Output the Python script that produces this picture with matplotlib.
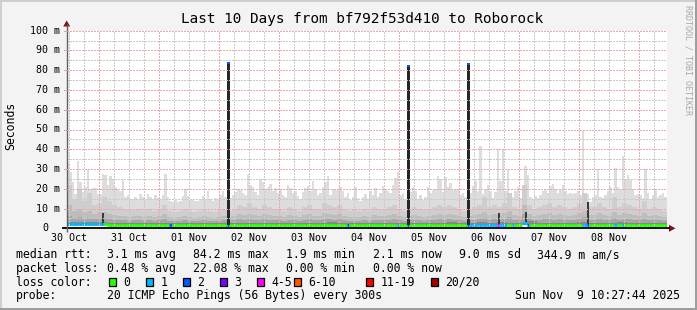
import matplotlib
matplotlib.use("Agg")
import matplotlib.pyplot as plt
import numpy as np
from matplotlib.patches import Rectangle, Polygon

# ---------------- data (ms, hours since start of graph) ----------------
# max ping per hour (lightest smoke)
smoke_max = [
    33, 28.5, 23.5, 17.5, 34, 23.5, 18.5, 21, 30, 20, 20.5, 20.5, 17.5,
    17.5, 27.5, 27, 22, 26.5, 25, 21, 20, 19, 24.5, 16, 17, 15, 15, 16, 15, 17.5, 16, 15, 17.5, 16, 15, 17, 15.5,
    15, 17, 27.5, 16, 14, 13.5, 14.5, 13.5, 14, 16.5, 20, 16.5, 14.5, 15, 14, 14, 15, 16.5, 15, 19, 15, 14, 15.5, 15,
    17, 19, 16, 15, 15.5, 17, 18.5, 20, 19.5, 18, 17, 27.5, 22, 21, 18.5, 17, 25, 23.5, 19.5, 21, 22.5, 19, 20.5, 18,
    20, 17, 16, 22, 20.5, 18, 19, 16.5, 15, 18.5, 20.5, 21.5, 19, 24, 20, 17, 18, 21, 23.5, 26.5, 17, 20, 19.5, 20,
    21, 19, 16, 18, 14.5, 16, 21, 15.5, 14, 16, 17.5, 15, 19, 17, 20.5, 16, 18, 21.5, 20, 19, 18, 22, 25.5, 28.5,
    17, 18, 15, 16, 18.5, 21, 19, 15, 17, 14.5, 16, 21, 18, 19.5, 20, 26.5, 25, 18.5, 26, 21, 23, 19.5, 20, 20,
    17, 18, 16, 20, 18, 21.5, 24, 19, 41.5, 17.5, 20, 22, 19, 15.5, 18.5, 40, 24, 40, 19, 30, 17.5, 16, 19, 21,
    15.5, 19, 31.5, 27, 16, 15, 16.5, 15.5, 17, 19, 19.5, 18, 21.5, 22.5, 20, 18, 19.5, 22, 19, 17.5, 18, 17.5, 18, 19,
    17, 49, 17, 17.5, 13.5, 16, 17, 30, 16, 15.5, 17, 19, 21, 18, 30.5, 21, 20, 36.5, 24.5, 27, 24.5, 20, 17, 17.5,
    17, 15.5, 30, 18, 15, 17, 19.5, 16, 17, 18, 16,
]
# inner smoke layers, one value per 2 hours
smoke_p2 = [
    22, 15, 20, 14, 18, 12, 13,
    16, 14, 12, 11, 10, 10, 9.5, 10, 9, 10, 9, 9.5,
    12, 9, 8.5, 9, 10, 9, 8.5, 9, 10, 9, 8.5, 9,
    10, 9, 10, 12, 11, 13, 11, 10, 12, 11, 10, 10,
    9, 11, 10, 9, 11, 12, 10, 10, 13, 12, 11, 12,
    10, 9, 9.5, 9, 10, 9, 11, 10, 10, 11, 12, 10,
    9, 10, 11, 10, 9.5, 10, 11, 12, 11, 12, 11, 10,
    9, 10, 11, 12, 16, 11, 12, 11, 13, 18, 11, 10,
    22, 12, 10, 11, 12, 13, 11, 12, 11, 10, 11, 13,
    18, 11, 11, 13, 11, 10, 16, 11, 13, 12, 11, 10,
    14, 10, 11, 10, 9,
]
smoke_p3 = [
    12, 9, 10, 8, 9, 7, 8,
    8, 7, 6.5, 6, 6, 5.5, 6, 6, 5.5, 6, 5.5, 6,
    7, 5.5, 5, 5.5, 6, 5.5, 5, 5.5, 6, 5.5, 5, 5.5,
    6, 5.5, 6, 7, 6.5, 7, 6.5, 6, 7, 6.5, 6, 6,
    5.5, 6.5, 6, 5.5, 6.5, 7, 6, 6, 7.5, 7, 6.5, 7,
    6, 5.5, 5.5, 5.5, 6, 5.5, 6.5, 6, 6, 6.5, 7, 6,
    5.5, 6, 6.5, 6, 5.5, 6, 6.5, 7, 6.5, 7, 6.5, 6,
    5.5, 6, 6.5, 7, 8, 6.5, 7, 6.5, 7.5, 9, 6.5, 6,
    12, 7, 6, 6.5, 7, 7.5, 6.5, 7, 6.5, 6, 6.5, 7.5,
    9, 6.5, 6.5, 7.5, 6.5, 6, 8, 6.5, 7.5, 7, 6.5, 6,
    7.5, 6, 6.5, 6, 5.5,
]
smoke_p4 = [
    6, 5, 5.5, 4.5, 5, 4.5, 5,
    5, 4.5, 4, 4, 4, 3.8, 4, 4, 3.8, 4, 3.8, 4,
    4.5, 3.8, 3.6, 3.8, 4, 3.8, 3.6, 3.8, 4, 3.8, 3.6, 3.8,
    4, 3.8, 4, 4.5, 4.2, 4.5, 4.2, 4, 4.5, 4.2, 4, 4,
    3.8, 4.2, 4, 3.8, 4.2, 4.5, 4, 4, 4.8, 4.5, 4.2, 4.5,
    4, 3.8, 3.8, 3.8, 4, 3.8, 4.2, 4, 4, 4.2, 4.5, 4,
    3.8, 4, 4.2, 4, 3.8, 4, 4.2, 4.5, 4.2, 4.5, 4.2, 4,
    3.8, 4, 4.2, 4.5, 5, 4.2, 4.5, 4.2, 4.8, 5.5, 4.2, 4,
    7, 4.5, 4, 4.2, 4.5, 4.8, 4.2, 4.5, 4.2, 4, 4.2, 4.8,
    5.5, 4.2, 4.2, 4.8, 4.2, 4, 5, 4.2, 4.8, 4.5, 4.2, 4,
    4.8, 4, 4.2, 4, 3.8,
]
# darkest smoke layer, one value per 4 hours
smoke_p5 = [
    3.4, 3.2, 3.1, 3.0, 2.8, 2.9, 2.8, 2.7, 2.8, 2.7, 2.7, 2.7, 2.6, 2.7, 2.6,
    2.7, 2.8, 2.9, 2.8, 2.8, 2.7, 2.8, 2.9, 2.8, 2.8, 2.9, 3.0, 2.9, 2.7, 2.7,
    2.8, 2.8, 2.7, 2.8, 2.9, 2.8, 2.8, 2.9, 3.0, 2.8, 2.8, 3.0, 2.9, 3.2, 2.8,
    2.8, 3.6, 2.9, 2.8, 2.9, 2.8, 3.0, 2.9, 2.8, 2.9, 3.0, 2.8, 2.8, 2.9, 2.8,
]
smoke_floor = [1.8]
# median rtt, one value per 2 hours
median_rtt = [
    2.3, 2.3, 2.3, 2.3, 2.3, 2.3, 2.3,
    2.2, 1.9, 1.8, 1.8, 1.9, 1.8, 1.8, 1.8, 1.9, 1.9, 1.8, 1.8,
    1.9, 1.8, 1.8, 1.8, 1.8, 1.7, 1.7, 1.8, 1.8, 1.8, 1.8, 1.9,
    1.7, 1.7, 1.8, 1.8, 1.8, 1.8, 1.8, 1.8, 1.8, 1.9, 1.8, 1.8,
    1.8, 1.8, 1.7, 1.7, 1.8, 1.8, 1.8, 1.8, 1.8, 1.8, 1.7, 1.8,
    1.8, 1.7, 1.7, 1.8, 1.8, 1.7, 1.8, 1.8, 1.8, 1.8, 1.8, 1.9,
    1.8, 1.8, 1.8, 1.8, 1.8, 1.8, 1.7, 1.8, 1.8, 1.8, 1.8, 1.9,
    1.8, 1.6, 1.7, 1.7, 1.8, 1.6, 1.8, 1.8, 1.8, 1.8, 1.8, 1.8,
    2.5, 1.8, 1.8, 1.8, 1.8, 1.8, 1.8, 1.8, 1.8, 1.8, 1.8, 1.8,
    1.9, 1.7, 1.7, 1.8, 1.8, 1.8, 1.8, 1.8, 1.8, 1.8, 1.8, 1.8,
    1.8, 1.8, 1.8, 1.8, 1.8,
]
# hours with packet loss -> lost pings (of 20)
loss_hours = [0, 1, 2, 3, 4, 5, 6, 7, 8, 9, 10, 11, 12, 13, 14, 41, 64, 112, 132, 136, 160,
              161, 162, 163, 164, 165, 166, 167, 168, 169, 170, 171, 172, 173, 174, 175, 178,
              182, 183, 184, 206, 207, 208, 219, 222]
loss_count = [1, 1, 1, 1, 1, 1, 1, 1, 1, 1, 1, 1, 1, 1, 1, 2, 2, 2, 1, 2, 2,
              1, 1, 1, 1, 1, 1, 1, 1, 1, 1, 1, 4, 1, 1, 1, 1,
              1, 1, 2, 1, 1, 2, 1, 1]
# tall spikes (hour, median ms at top)
spike_hour = [64.7, 136.7, 160.7]
spike_top = [84.2, 82.6, 83.6]
# short dark smoke columns (hour, top ms)
dark_hour = [14.5, 173.0, 183.8, 208.5]
dark_top = [7.9, 7.9, 8.0, 13.5]

y_ticks = [0, 10, 20, 30, 40, 50, 60, 70, 80, 90, 100]
y_labels = ["0", "10 m", "20 m", "30 m", "40 m", "50 m", "60 m", "70 m", "80 m", "90 m", "100 m"]
day_labels = ["30 Oct", "31 Oct", "01 Nov", "02 Nov", "03 Nov", "04 Nov", "05 Nov", "06 Nov", "07 Nov", "08 Nov"]
first_noon = 1.04
first_midnight = 13.04

loss_names = ["0", "1", "2", "3", "4-5", "6-10", "11-19", "20/20"]
loss_colors = ["#26ff00", "#00b8ff", "#0059ff", "#7e00ff", "#ff00ff", "#ff5500", "#ff0000", "#a10000"]

title = "Last 10 Days from bf792f53d410 to Roborock"
legend_rows = [
    ("median rtt:", ["3.1 ms avg", "84.2 ms max", "1.9 ms min", "2.1 ms now", "9.0 ms sd", "344.9 m am/s"]),
    ("packet loss:", ["0.48 % avg", "22.08 % max", "0.00 % min", "0.00 % now"]),
]
probe_text = "20 ICMP Echo Pings (56 Bytes) every 300s"
date_text = "Sun Nov  9 10:27:44 2025"

# ---------------- drawing ----------------
W, H = 697, 310
MONO = "DejaVu Sans Mono"
fig = plt.figure(figsize=(W / 100, H / 100), dpi=100, facecolor="#F3F3F3")

PX_L, PX_R, PX_B, PX_T = 66.7, 666.7, 228.3, 30.7
ax = fig.add_axes([PX_L / W, 1 - PX_B / H, (PX_R - PX_L) / W, (PX_B - PX_T) / H])
ax.set_xlim(0, 240)
ax.set_ylim(0, 100)
ax.set_facecolor("white")
for s in ax.spines.values():
    s.set_visible(False)
ax.set_xticks([])
ax.set_yticks([])

floor = smoke_floor[0]
e1 = np.arange(len(smoke_max) + 1)
e2 = np.arange(len(smoke_p2) + 1) * 2
e4 = np.arange(len(smoke_p5) + 1) * 4
ax.stairs(smoke_max, e1, baseline=floor, fill=True, color="#DDDDDD", zorder=1)
ax.stairs(smoke_p2, e2, baseline=floor, fill=True, color="#CECECE", zorder=2)
ax.stairs(smoke_p3, e2, baseline=floor, fill=True, color="#BDBDBD", zorder=3)
ax.stairs(smoke_p4, e2, baseline=floor, fill=True, color="#A6A6A6", zorder=4)
ax.stairs(smoke_p5, e4, baseline=floor, fill=True, color="#888888", zorder=5)

for h, t in zip(dark_hour, dark_top):
    ax.bar(h, t - floor, bottom=floor, width=1.0, color="#3A3A3A", zorder=6, linewidth=0)

# median line coloured by loss
loss_map = dict(zip(loss_hours, loss_count))
def loss_idx(n):
    if n == 0: return 0
    if n <= 3: return n
    if n <= 5: return 4
    if n <= 10: return 5
    if n <= 19: return 6
    return 7
hrs = np.arange(240)
med_y = [median_rtt[h // 2] for h in hrs]
med_c = [loss_colors[loss_idx(loss_map.get(int(h), 0))] for h in hrs]
ax.hlines(med_y, hrs, hrs + 1, colors=med_c, linewidth=2.2, zorder=7, capstyle="butt")

for h, t in zip(spike_hour, spike_top):
    ax.bar(h, t - floor, bottom=floor, width=1.3, color="#262626", zorder=8, linewidth=0)
    ax.bar(h, 1.0, bottom=t - 1.0, width=1.3, color=loss_colors[2], zorder=9, linewidth=0)

# grid on top (dotted)
dot = (0, (1, 1.4))
kw_minor = dict(color="#CACACA", lw=0.75, ls=dot, zorder=20, antialiased=False)
kw_major = dict(color="#EFA8A8", lw=0.75, ls=dot, zorder=21, antialiased=False)
for v in range(5, 100, 10):
    ax.axhline(v, **kw_minor)
for v in range(10, 101, 10):
    ax.axhline(v, **kw_major)
mins = np.arange(first_noon, 240, 6)
for x in mins:
    if abs(((x - first_midnight) / 24) - round((x - first_midnight) / 24)) > 1e-6:
        ax.axvline(x, **kw_minor)
for k in range(10):
    ax.axvline(first_midnight + 24 * k, **kw_major)

# ---------------- overlay in pixel coords ----------------
ov = fig.add_axes([0, 0, 1, 1], facecolor="none")
ov.set_xlim(0, W)
ov.set_ylim(H, 0)
ov.axis("off")

def ypix(v):
    return PX_B - (PX_B - PX_T) * v / 100.0

def xpix(h):
    return PX_L + (PX_R - PX_L) * h / 240.0

# borders
ov.add_patch(Rectangle((0, 0), W, 2, color="#CFCFCF", lw=0))
ov.add_patch(Rectangle((0, 0), 2, H, color="#CFCFCF", lw=0))
ov.add_patch(Rectangle((W - 2.5, 0), 2.5, H, color="#9E9E9E", lw=0))
ov.add_patch(Rectangle((0, H - 2.5), W, 2.5, color="#9E9E9E", lw=0))

# axes lines and arrows
ov.plot([62, 670], [PX_B, PX_B], color="black", lw=1.3, solid_capstyle="butt")
ov.plot([PX_L, PX_L], [232, 24], color="#606060", lw=1.0, solid_capstyle="butt")
ov.add_patch(Polygon([[669, 224.8], [669, 231.8], [675.5, 228.3]], closed=True, color="#7F1212", lw=0))
ov.add_patch(Polygon([[63.2, 26.5], [70.2, 26.5], [PX_L, 20.5]], closed=True, color="#7F1212", lw=0))
for v in y_ticks[1:]:
    ov.plot([63.5, PX_L], [ypix(v), ypix(v)], color="#E0A0A0", lw=0.7)

# tick labels
for v, lab in zip(y_ticks, y_labels):
    xr = 60.2 if lab != "0" else 48.2
    ov.text(xr, ypix(v), lab, ha="right", va="center", fontsize=7.2, family=MONO, color="#000000")
for k, lab in enumerate(day_labels):
    ov.text(xpix(first_noon + 24 * k), 238.3, lab, ha="center", va="center", fontsize=7.2, family=MONO)

ov.text(362, 19.3, title, ha="center", va="center", fontsize=10.4, family=MONO)
ov.text(10.5, 126, "Seconds", ha="center", va="center", rotation=90, fontsize=8.3, family=MONO)
ov.text(688, 60, "RRDTOOL / TOBI OETIKER", ha="center", va="center", rotation=270,
        fontsize=6.0, family=MONO, color="#A8A8A8")

# legend
LF = 8.3
tok_x = [[107, 193.3, 286, 372.7, 458.7, 537.3], [107, 193.3, 286, 372.7]]
row_y = [254.7, 268.2, 282.0, 295.7]
for r, (head, toks) in enumerate(legend_rows):
    ov.text(16, row_y[r], head, ha="left", va="center", fontsize=LF, family=MONO)
    for x, t in zip(tok_x[r], toks):
        ov.text(x, row_y[r], t, ha="left", va="center", fontsize=LF, family=MONO)

ov.text(16, row_y[2], "loss color:", ha="left", va="center", fontsize=LF, family=MONO)
box_x = [108.7, 145.7, 182.7, 219.7, 256.7, 293.7, 365.7, 430.7]
for bx, c, name in zip(box_x, loss_colors, loss_names):
    ov.add_patch(Rectangle((bx, row_y[2] - 4.2), 7.6, 8.2, facecolor=c, edgecolor="black", lw=0.9))
    ov.text(bx + 14.6, row_y[2], name, ha="left", va="center", fontsize=LF, family=MONO)

ov.text(16, row_y[3], "probe:", ha="left", va="center", fontsize=LF, family=MONO)
ov.text(107, row_y[3], probe_text, ha="left", va="center", fontsize=LF, family=MONO)
ov.text(680, row_y[3], date_text, ha="right", va="center", fontsize=LF, family=MONO)

fig.savefig("out.png", dpi=100, facecolor=fig.get_facecolor())
